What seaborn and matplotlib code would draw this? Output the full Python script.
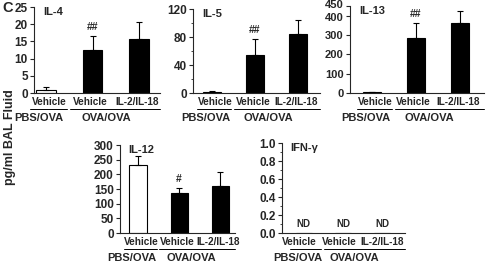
import numpy as np
import matplotlib
matplotlib.use("Agg")
import matplotlib.pyplot as plt
import matplotlib.transforms as mtransforms
from matplotlib.ticker import MultipleLocator
import seaborn as sns

# ===================== data =====================
conditions = ["PBS Vehicle", "OVA Vehicle", "OVA IL-2/IL-18"]
groups = ["PBS/OVA", "OVA/OVA", "OVA/OVA"]
tick_labels = ["Vehicle", "Vehicle", "IL-2/IL-18"]

il4_mean = [1.0, 12.5, 15.8]
il4_err = [0.6, 4.0, 4.8]
il5_mean = [1.5, 54, 85]
il5_err = [0.8, 23, 19]
il13_mean = [5, 283, 360]
il13_err = [2, 80, 62]
il12_mean = [233, 138, 160]
il12_err = [30, 16, 47]
ifng_mean = [0, 0, 0]
ifng_err = [0, 0, 0]

marks_il4 = ["", "##", ""]
marks_il5 = ["", "##", ""]
marks_il13 = ["", "##", ""]
marks_il12 = ["", "#", ""]

# ===================== style =====================
sns.set_style("ticks")
plt.rcParams["font.family"] = ["Liberation Sans", "DejaVu Sans"]
plt.rcParams["font.weight"] = "bold"
palette = {"PBS/OVA": "white", "OVA/OVA": "black"}

W, H = 486, 263
fig = plt.figure(figsize=(W / 100, H / 100), dpi=100)


def make_ax(left, right, top, bottom):
    return fig.add_axes([left / W, 1 - bottom / H, (right - left) / W, (bottom - top) / H])


def panel(ax, name, mean, err, marks, ymax, yticks, minor, xlim, nd=False,
          xt=(0.08, 0.95, 1.95), ysize=8.5):
    sns.barplot(x=conditions, y=mean, hue=groups, palette=palette, order=conditions,
                dodge=False, width=0.42, edgecolor="black", linewidth=0.8,
                legend=False, ax=ax, zorder=2)
    if not nd:
        ax.errorbar(range(3), mean, yerr=[np.zeros(3), err], fmt="none", ecolor="black",
                    elinewidth=0.8, capsize=2, capthick=0.8, zorder=3)
    for i, m in enumerate(marks):
        if m:
            ax.annotate(m, (i, mean[i] + err[i]), xytext=(0, 3), textcoords="offset points",
                        ha="center", va="bottom", fontsize=7.5, fontweight="bold")
    if nd:
        for i in range(3):
            ax.annotate("ND", (i, 0), xytext=(0, 3), textcoords="offset points",
                        ha="center", va="bottom", fontsize=7, fontweight="bold")
    ax.set_ylim(0, ymax)
    ax.set_yticks(yticks)
    if minor:
        ax.yaxis.set_minor_locator(MultipleLocator(minor))
    ax.set_xlim(*xlim)
    ax.set_xticks(list(xt))
    ax.set_xticklabels(tick_labels, fontsize=7.2, fontweight="bold")
    ax.tick_params(axis="x", length=0, pad=3)
    ax.tick_params(axis="y", which="major", length=3, width=0.8, pad=1.5, labelsize=ysize)
    ax.tick_params(axis="y", which="minor", length=1.8, width=0.6)
    for lab in ax.get_yticklabels():
        lab.set_fontweight("bold")
    ax.set_xlabel("")
    ax.set_ylabel("")
    sns.despine(ax=ax)
    ax.spines["left"].set_linewidth(0.8)
    ax.spines["bottom"].set_linewidth(0.8)
    ax.text(0.07, 1.0, name, transform=ax.transAxes, ha="left", va="top",
            fontsize=8, fontweight="bold")

    # group labels under the ticks
    base = mtransforms.blended_transform_factory(ax.transData, ax.transAxes)
    line_tr = base + mtransforms.ScaledTranslation(0, -0.16, fig.dpi_scale_trans)
    text_tr = base + mtransforms.ScaledTranslation(0, -0.25, fig.dpi_scale_trans)
    ax.plot([-0.35, 0.45], [0, 0], color="black", lw=0.7, transform=line_tr, clip_on=False)
    ax.plot([0.52, xlim[1]], [0, 0], color="black", lw=0.7, transform=line_tr, clip_on=False)
    ax.text(-0.15, 0, "PBS/OVA", transform=text_tr, ha="center", va="center",
            fontsize=8, fontweight="bold")
    ax.text(1.3, 0, "OVA/OVA", transform=text_tr, ha="center", va="center",
            fontsize=8, fontweight="bold")


ax1 = make_ax(34, 160, 7, 93)
panel(ax1, "IL-4", il4_mean, il4_err, marks_il4, 25, range(0, 26, 5), None, (-0.26, 2.45))
ax2 = make_ax(193, 320, 9, 93)
panel(ax2, "IL-5", il5_mean, il5_err, marks_il5, 120, range(0, 121, 40), 20, (-0.44, 2.51))
ax3 = make_ax(350, 484, 6, 93)
panel(ax3, "IL-13", il13_mean, il13_err, marks_il13, 450, [0, 100, 200, 300, 400, 450], None,
      (-0.5, 2.55), ysize=8)
# nudge the crowded top labels apart, as in the reference
ylabs = ax3.get_yticklabels()
ylabs[-1].set_transform(ylabs[-1].get_transform()
                        + mtransforms.ScaledTranslation(0, 0.025, fig.dpi_scale_trans))
ylabs[-2].set_transform(ylabs[-2].get_transform()
                        + mtransforms.ScaledTranslation(0, -0.01, fig.dpi_scale_trans))
ax4 = make_ax(120, 235, 145, 233)
panel(ax4, "IL-12", il12_mean, il12_err, marks_il12, 300, range(0, 301, 50), None, (-0.44, 2.36))
ax5 = make_ax(282, 405, 143, 233)
panel(ax5, "IFN-γ", ifng_mean, ifng_err, ["", "", ""], 1.0, [0, 0.2, 0.4, 0.6, 0.8, 1.0], 0.1,
      (-0.56, 2.59), nd=True, xt=(-0.12, 0.9, 2.0))
ax5.set_yticklabels(["0.0", "0.2", "0.4", "0.6", "0.8", "1.0"], fontweight="bold")

fig.text(2 / W, 1 - 8 / H, "C", ha="left", va="center", fontsize=10.5, fontweight="bold")
fig.text(10 / W, 1 - 137 / H, "pg/ml BAL Fluid", rotation=90, ha="center", va="center",
         fontsize=9, fontweight="bold")

fig.savefig("out.png", dpi=100)
